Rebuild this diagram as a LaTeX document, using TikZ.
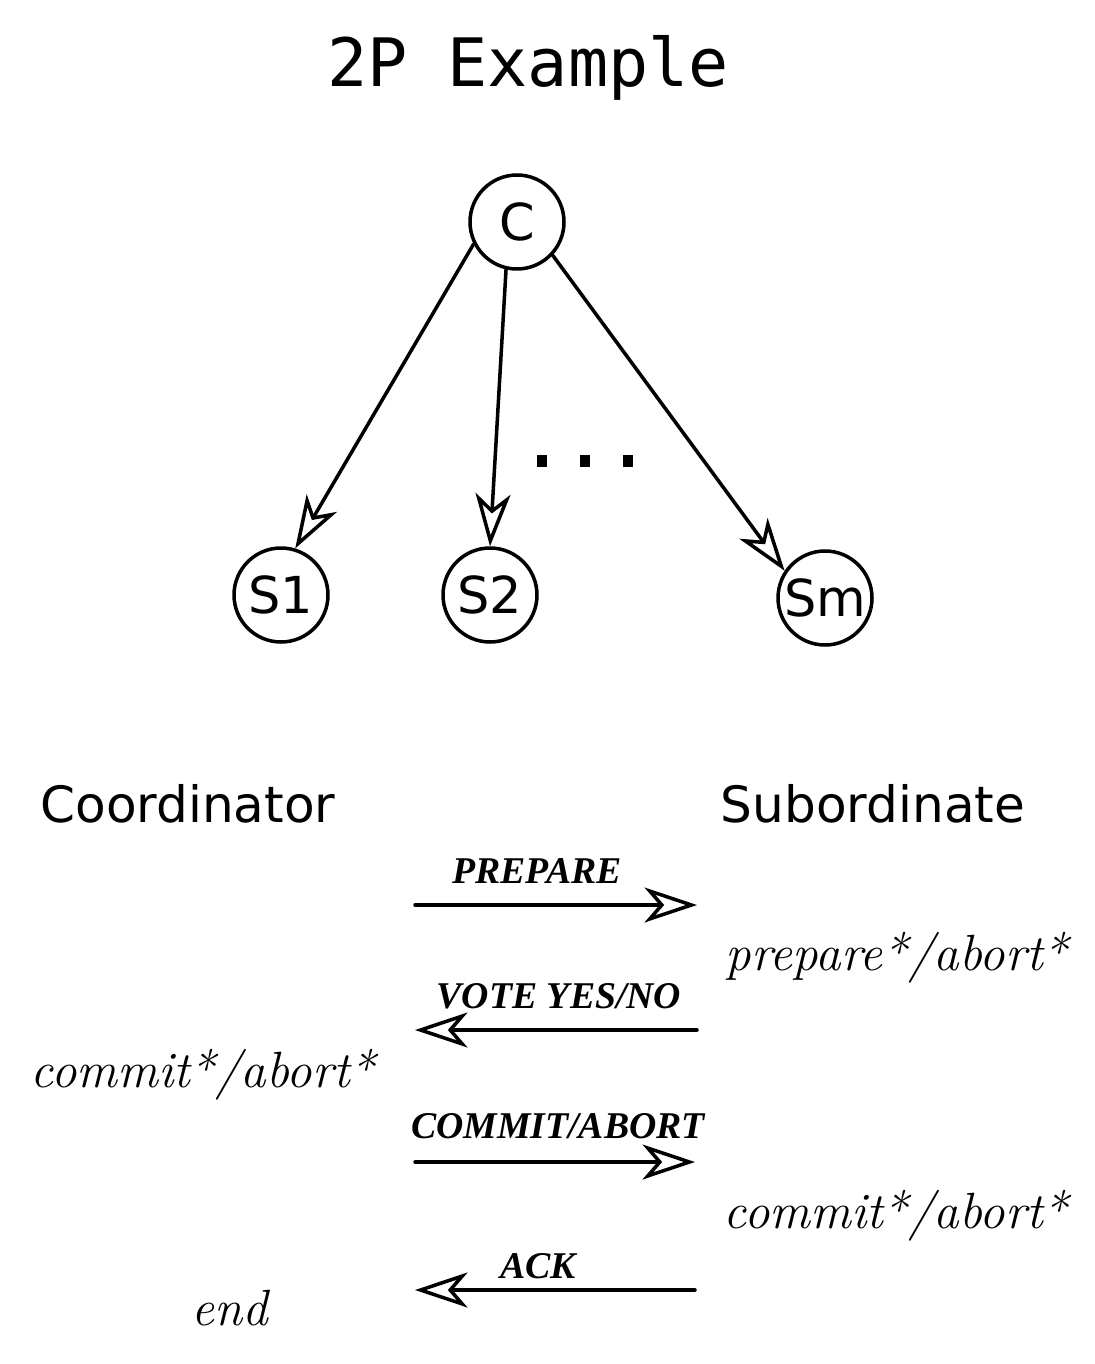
\documentclass[tikz,border=0pt]{standalone}
\usepackage{fontspec}
\usetikzlibrary{arrows.meta}
\newfontfamily\titlefont{DejaVu Sans Mono}
\newfontfamily\sansfont{DejaVu Sans}
\newfontfamily\msgfont{Liberation Serif}

\begin{document}
\begin{tikzpicture}[x=0.02cm,y=-0.02cm]
\tikzset{
  graphnode/.style={circle,draw=black,line width=2pt,minimum size=1.88cm,inner sep=0pt,font=\sansfont\fontsize{29}{29}\selectfont},
  graphedge/.style={draw=black,line width=2pt,line cap=round,line join=round},
  directed/.style={graphedge,-{Stealth[open,length=10.5mm,width=7mm,inset=3mm]}},
  rolelabel/.style={anchor=base,inner sep=0pt,font=\sansfont\fontsize{28.5}{28.5}\selectfont},
  msglabel/.style={anchor=base,inner sep=0pt,font=\msgfont\bfseries\itshape\fontsize{21.5}{21.5}\selectfont},
  statelabel/.style={anchor=base,inner sep=0pt,font=\itshape\fontsize{29}{29}\selectfont}
}
\useasboundingbox (0,0) rectangle (1094,1364);
\node[inner sep=0pt,font=\titlefont\fontsize{38}{38}\selectfont] (n_title) at (528,68) {2P Example};
\node[graphnode] (n_C) at (517,222) {C};
\node[graphnode] (n_S1) at (281,595) {S1};
\node[graphnode] (n_S2) at (490,595) {S2};
\node[graphnode] (n_Sm) at (825,598) {Sm};
\draw[directed] (n_C.207) -- (n_S1.73);
\draw[directed] (n_C.257) -- (n_S2.90);
\draw[directed] (n_C.317) -- (n_Sm.146);
\foreach \x in {542,585,628}
  \fill (\x-5,455) rectangle (\x+5,467);
\node[rolelabel] (n_coord) at (188,822) {Coordinator};
\node[rolelabel] (n_sub) at (873,822) {Subordinate};
\coordinate (m1a) at (415,905);
\coordinate (m1b) at (697,905);
\coordinate (m2a) at (697,1030);
\coordinate (m2b) at (415,1030);
\coordinate (m3a) at (415,1162);
\coordinate (m3b) at (695,1162);
\coordinate (m4a) at (695,1290);
\coordinate (m4b) at (415,1290);
\node[msglabel] (n_prep) at (537,883) {PREPARE};
\node[msglabel] (n_vote) at (559,1008) {VOTE YES/NO};
\node[msglabel] (n_comm) at (558,1138) {COMMIT/ABORT};
\node[msglabel] (n_ack) at (538,1278) {ACK};
\draw[directed] (m1a) -- (m1b);
\draw[directed] (m2a) -- (m2b);
\draw[directed] (m3a) -- (m3b);
\draw[directed] (m4a) -- (m4b);
\node[statelabel] (n_s_prep) at (897,970) {prepare*/abort*};
\node[statelabel] (n_c_comm) at (203,1087) {commit*/abort*};
\node[statelabel] (n_s_comm) at (896,1228) {commit*/abort*};
\node[statelabel] (n_c_end) at (230,1325) {end};
\end{tikzpicture}
\end{document}
